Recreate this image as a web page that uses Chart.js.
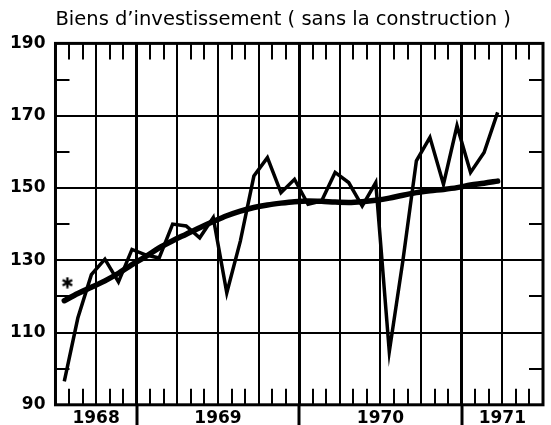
<!DOCTYPE html>
<html>
<head>
<meta charset="utf-8">
<script src="https://cdn.jsdelivr.net/npm/chart.js@4.4.0/dist/chart.umd.min.js"></script>
<style>
  html, body { margin: 0; padding: 0; background: #fff; }
  #wrap { width: 551px; height: 425px; }
</style>
</head>
<body>
<div id="wrap"><canvas id="c" width="551" height="425"></canvas></div>
<script>
// ---- data ----
const titleText = "Biens d\u2019investissement ( sans la construction )";
// months from July 1968 to March 1971
const months = ["1968-07","1968-08","1968-09","1968-10","1968-11","1968-12",
  "1969-01","1969-02","1969-03","1969-04","1969-05","1969-06","1969-07","1969-08","1969-09","1969-10","1969-11","1969-12",
  "1970-01","1970-02","1970-03","1970-04","1970-05","1970-06","1970-07","1970-08","1970-09","1970-10","1970-11","1970-12",
  "1971-01","1971-02","1971-03"];
const monthly = [96.5, 114, 126, 130.3, 124, 133, 131.5, 130.6, 140, 139.5, 136.2, 141.8,
  121, 135.3, 153.3, 158.4, 148.7, 152.4, 145.5, 146.4, 154.3, 151.5, 145, 151.5,
  104.7, 129.8, 157.5, 164, 151, 167.2, 154.3, 159.8, 170.9];
const trend = [118.8, 120.8, 122.5, 124.3, 126.4, 128.8, 131, 133.4, 135.4, 137.2, 139, 140.7,
  142.3, 143.6, 144.6, 145.3, 145.8, 146.2, 146.4, 146.3, 146.1, 146, 146.2, 146.6,
  147.2, 148, 148.7, 149.2, 149.6, 150.1, 150.8, 151.3, 151.9];
const asterisk = [{ x: 0.88, y: 123.8 }];
const yearLabels = ["1968", "1969", "1970", "1971"];
const yearCenters = [3, 12, 24, 33];   // month offsets from July 1968
const yearBounds = [6, 18, 30];
const yTickLabels = [90, 110, 130, 150, 170, 190];
const yMinorTicks = [100, 120, 140, 160, 180];

const pos = months.map((m, i) => i + 0.65);
const monthlyPts = monthly.map((v, i) => ({ x: pos[i], y: v }));
const trendPts = trend.map((v, i) => ({ x: pos[i], y: v }));

// six-armed asterisk glyph used as point style
const star = document.createElement('canvas');
star.width = 12; star.height = 12;
(function () {
  const g = star.getContext('2d');
  g.strokeStyle = '#000'; g.lineWidth = 2.4; g.lineCap = 'butt';
  for (let k = 0; k < 3; k++) {
    const ang = Math.PI / 2 + k * Math.PI / 3;
    const dx = Math.cos(ang) * 5.5, dy = Math.sin(ang) * 5.5;
    g.beginPath(); g.moveTo(6 - dx, 6 - dy); g.lineTo(6 + dx, 6 + dy); g.stroke();
  }
})();

const frame = {
  id: 'frame',
  beforeDatasetsDraw(chart) {
    const { ctx, chartArea: a, scales: { x, y } } = chart;
    ctx.save();
    ctx.strokeStyle = '#000';
    ctx.lineCap = 'butt';
    ctx.lineWidth = 2;
    // monthly ticks top & bottom
    for (let m = 1; m < 36; m++) {
      if (m % 3 === 0) continue;
      const px = Math.round(x.getPixelForValue(m));
      ctx.beginPath();
      ctx.moveTo(px, a.top); ctx.lineTo(px, a.top + 16);
      ctx.moveTo(px, a.bottom); ctx.lineTo(px, a.bottom - 16);
      ctx.stroke();
    }
    // minor y ticks left & right
    yMinorTicks.forEach(v => {
      const py = Math.round(y.getPixelForValue(v));
      ctx.beginPath();
      ctx.moveTo(a.left, py); ctx.lineTo(a.left + 14, py);
      ctx.moveTo(a.right, py); ctx.lineTo(a.right - 14, py);
      ctx.stroke();
    });
    // year boundary ticks below the axis
    ctx.lineWidth = 3;
    yearBounds.forEach(v => {
      const px = Math.round(x.getPixelForValue(v));
      ctx.beginPath();
      ctx.moveTo(px, a.bottom); ctx.lineTo(px, a.bottom + 24);
      ctx.stroke();
    });
    // frame
    ctx.lineWidth = 3;
    ctx.strokeRect(a.left, a.top, a.right - a.left, a.bottom - a.top);
    ctx.restore();
  }
};

new Chart(document.getElementById('c'), {
  type: 'line',
  data: {
    datasets: [
      { label: 'mensuel', data: monthlyPts, borderColor: '#000', borderWidth: 3.5,
        pointRadius: 0, tension: 0, borderJoinStyle: 'miter', fill: false },
      { label: 'tendance', data: trendPts, borderColor: '#000', borderWidth: 5.5,
        pointRadius: 0, cubicInterpolationMode: 'monotone', borderCapStyle: 'round', fill: false },
      { label: 'note', type: 'scatter', data: asterisk, pointStyle: star, pointRadius: 6,
        borderColor: '#000', backgroundColor: '#000' }
    ]
  },
  options: {
    responsive: false,
    animation: false,
    events: [],
    layout: { padding: { left: 0, right: 8, top: 0, bottom: -7 } },
    plugins: {
      legend: { display: false },
      tooltip: { enabled: false },
      title: {
        display: true, text: titleText, align: 'start', fullSize: false,
        color: '#000', font: { family: 'DejaVu Sans', size: 19.5, weight: 'normal', lineHeight: 1.2 },
        padding: { top: 8, bottom: 12 }
      }
    },
    scales: {
      x: {
        type: 'linear', min: 0, max: 36,
        border: { display: false },
        grid: {
          drawTicks: false,
          color: '#000',
          lineWidth: c => (yearBounds.includes(c.tick.value) ? 3 : 2)
        },
        ticks: {
          stepSize: 3, autoSkip: false, maxRotation: 0, padding: 5,
          color: '#000', font: { family: 'DejaVu Sans', size: 17, weight: 'bold', lineHeight: 1.0 },
          callback: v => { const k = yearCenters.indexOf(v); return k >= 0 ? yearLabels[k] : ''; }
        }
      },
      y: {
        min: 90, max: 190,
        border: { display: false },
        grid: {
          drawTicks: false,
          color: c => ((c.tick.value % 20 === 10 && c.tick.value > 90 && c.tick.value < 190) ? '#000' : 'rgba(0,0,0,0)'),
          lineWidth: 2
        },
        ticks: {
          stepSize: 10, autoSkip: false, padding: 10,
          color: '#000', font: { family: 'DejaVu Sans', size: 17, weight: 'bold' },
          callback: v => (yTickLabels.includes(v) ? String(v) : '')
        }
      }
    }
  },
  plugins: [frame]
});
</script>
</body>
</html>
